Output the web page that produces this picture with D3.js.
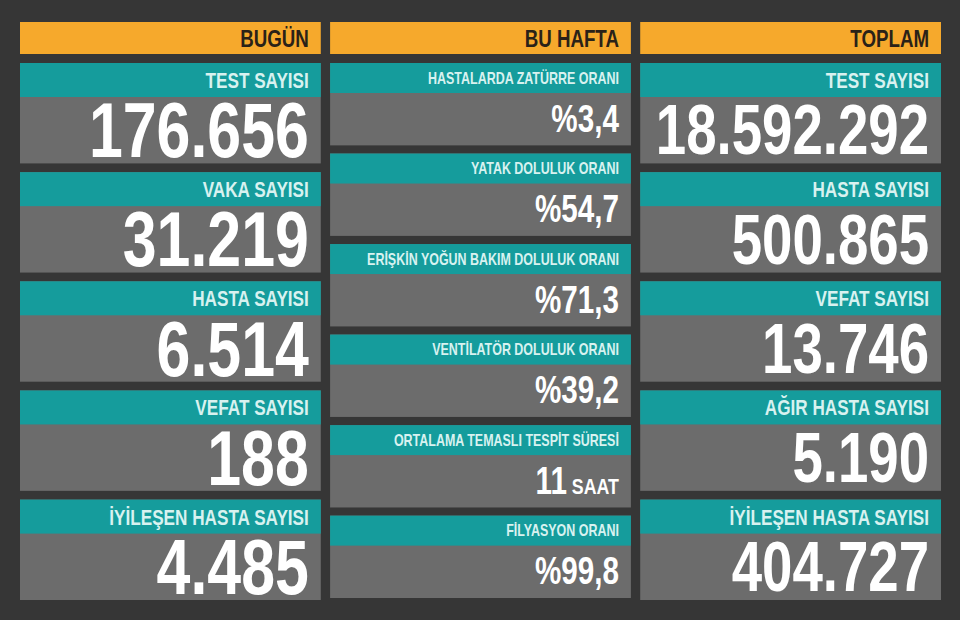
<!DOCTYPE html>
<html><head><meta charset="utf-8">
<script src="https://cdn.jsdelivr.net/npm/d3@7"></script>
<style>body{margin:0;background:#363636}svg text{font-family:"Liberation Sans",Arial,sans-serif;font-weight:bold}</style>
</head><body><svg id="c" width="960" height="620"></svg>
<script>
var headers = ["BUGÜN", "BU HAFTA", "TOPLAM"];
var todayLabels = ["TEST SAYISI", "VAKA SAYISI", "HASTA SAYISI", "VEFAT SAYISI", "İYİLEŞEN HASTA SAYISI"];
var todayValues = ["176.656", "31.219", "6.514", "188", "4.485"];
var weekLabels = ["HASTALARDA ZATÜRRE ORANI", "YATAK DOLULUK ORANI", "ERİŞKİN YOĞUN BAKIM DOLULUK ORANI", "VENTİLATÖR DOLULUK ORANI", "ORTALAMA TEMASLI TESPİT SÜRESİ", "FİLYASYON ORANI"];
var weekValues = ["%3,4", "%54,7", "%71,3", "%39,2", "11", "%99,8"];
var weekUnits = ["", "", "", "", "SAAT", ""];
var totalLabels = ["TEST SAYISI", "HASTA SAYISI", "VEFAT SAYISI", "AĞIR HASTA SAYISI", "İYİLEŞEN HASTA SAYISI"];
var totalValues = ["18.592.292", "500.865", "13.746", "5.190", "404.727"];

var svg = d3.select("#c");
var x = d3.scaleBand().domain(d3.range(3)).range([20, 941]).paddingInner(0.03).paddingOuter(0);
var squeeze = 0.78;

svg.selectAll("rect.h").data(headers).enter().append("rect")
  .attr("x", (d, i) => x(i)).attr("y", 22).attr("width", x.bandwidth()).attr("height", 32).attr("fill", "#f6a92c");
svg.selectAll("text.h").data(headers).enter().append("text")
  .attr("transform", (d, i) => "translate(" + (x(i) + x.bandwidth() - 12) + ",47) scale(" + squeeze + ",1)")
  .attr("text-anchor", "end").attr("font-size", 24).attr("fill", "#2a2218").text(d => d);

function column(ci, labels, values, units, top, bottom, gap, teal, labelSize, valSize) {
  var n = labels.length;
  var y = d3.scaleBand().domain(d3.range(n)).range([top, bottom]).paddingInner(gap).paddingOuter(0);
  var x0 = x(ci), w = x.bandwidth(), right = x0 + w - 12;
  var g = svg.append("g").selectAll("g").data(labels).enter().append("g")
    .attr("transform", (d, i) => "translate(0," + y(i) + ")");
  g.append("rect").attr("x", x0).attr("width", w).attr("height", y.bandwidth()).attr("fill", "#6c6c6c");
  g.append("rect").attr("x", x0).attr("width", w).attr("height", teal).attr("fill", "#159c9c");
  g.append("text")
    .attr("transform", "translate(" + right + "," + (teal * 0.5 + labelSize * 0.36) + ") scale(" + squeeze + ",1)")
    .attr("text-anchor", "end").attr("font-size", labelSize).attr("fill", "#d8f2f0").text(d => d);
  var vy = y.bandwidth() - (y.bandwidth() - teal - valSize * 0.72) / 2 - 1;
  var t = g.append("text")
    .attr("transform", "translate(" + right + "," + vy + ") scale(" + squeeze + ",1)")
    .attr("text-anchor", "end").attr("fill", "#fff").attr("font-size", valSize);
  t.append("tspan").text((d, i) => values[i]);
  t.append("tspan").attr("font-size", valSize * 0.6).text((d, i) => units && units[i] ? " " + units[i] : "");
}
column(0, todayLabels, todayValues, null, 63, 600, 0.08, 34, 22, 78);
column(1, weekLabels, weekValues, weekUnits, 63, 598, 0.09, 30, 16, 38);
column(2, totalLabels, totalValues, null, 63, 600, 0.08, 34, 22, 70);
</script></body></html>
